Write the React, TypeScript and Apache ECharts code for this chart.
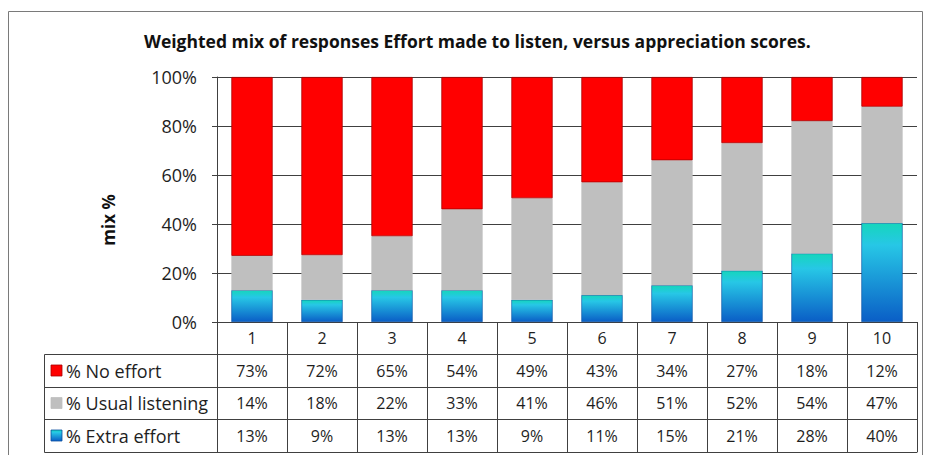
import React, { useEffect, useRef } from "react";
import * as echarts from "echarts";

const categories = ["1", "2", "3", "4", "5", "6", "7", "8", "9", "10"];
const noEffort = [73, 72, 65, 54, 49, 43, 34, 27, 18, 12];
const usualListening = [14, 18, 22, 33, 41, 46, 51, 52, 54, 47];
const extraEffort = [13, 9, 13, 13, 9, 11, 15, 21, 28, 40];
const seriesNames = ["% No effort", "% Usual listening", "% Extra effort"];
const yTicks = [0, 20, 40, 60, 80, 100];
const titleText = "Weighted mix of responses Effort made to listen, versus appreciation scores.";
const yAxisTitle = "mix %";

const FONT = "'Open Sans', Carlito, Calibri, sans-serif";

export default function App() {
  const ref = useRef<HTMLDivElement>(null);
  useEffect(() => {
    if (!ref.current) return;
    const chart = echarts.init(ref.current, undefined, { renderer: "svg" });

    const totals = categories.map((_, i) => noEffort[i] + usualListening[i] + extraEffort[i]);
    const norm = (arr: number[]) => arr.map((v, i) => (v / totals[i]) * 100);

    const gridLeft = 217;
    const gridRight = 917;
    const gridTop = 77;
    const gridBottom = 322;
    const rowOffsets = [0, 32, 65, 97, 130];
    const rowHeights = [32, 33, 32, 33];
    const lineColor = "#404040";
    const tableLeft = 44;
    const textColor = "#1e1e1e";

    const makeGradient = () =>
      new echarts.graphic.LinearGradient(0, 0, 0, 1, [
        { offset: 0, color: "#15d6bc" },
        { offset: 0.22, color: "#27c7e6" },
        { offset: 1, color: "#0a5ec6" },
      ]);

    const rows = [noEffort, usualListening, extraEffort];
    const seriesColors: any[] = ["#ff0000", "#bfbfbf", makeGradient()];
    const seriesBorders = ["#a80000", "#bfbfbf", "#0a4f9e"];

    const baseXAxis = {
      type: "category",
      gridIndex: 0,
      data: categories,
      position: "bottom",
      boundaryGap: true,
      splitLine: { show: false },
    };

    const xAxes: any[] = [
      {
        ...baseXAxis,
        offset: 0,
        axisLine: { show: true, lineStyle: { color: lineColor, width: 1 } },
        axisTick: { show: true, length: rowHeights[0], interval: 0, lineStyle: { color: lineColor } },
        axisLabel: {
          interval: 0,
          margin: rowHeights[0] / 2,
          verticalAlign: "middle",
          fontSize: 16,
          fontFamily: FONT,
          color: textColor,
        },
      },
    ];
    rows.forEach((row, r) => {
      xAxes.push({
        ...baseXAxis,
        offset: rowOffsets[r + 1],
        axisLine: { show: true, lineStyle: { color: lineColor, width: 1 } },
        axisTick: { show: true, length: rowHeights[r + 1], interval: 0, lineStyle: { color: lineColor } },
        axisLabel: {
          interval: 0,
          margin: rowHeights[r + 1] / 2,
          verticalAlign: "middle",
          fontSize: 16,
          fontFamily: FONT,
          color: textColor,
          formatter: (_v: string, i: number) => row[i] + "%",
        },
      });
    });
    xAxes.push({
      ...baseXAxis,
      offset: rowOffsets[4],
      axisLine: { show: true, lineStyle: { color: lineColor, width: 1 } },
      axisTick: { show: false },
      axisLabel: { show: false },
    });

    const legendGraphics: any[] = [];
    seriesNames.forEach((name, r) => {
      const cy = gridBottom + rowOffsets[r + 1] + rowHeights[r + 1] / 2;
      legendGraphics.push({
        type: "rect",
        silent: true,
        shape: { x: 51, y: cy - 5.5, width: 11, height: 11 },
        style: { fill: r === 2 ? makeGradient() : seriesColors[r], stroke: seriesBorders[r], lineWidth: 0.8 },
      });
      legendGraphics.push({
        type: "text",
        silent: true,
        x: 66,
        y: cy,
        style: {
          text: name,
          fontSize: 18,
          fontFamily: FONT,
          fill: textColor,
          align: "left",
          verticalAlign: "middle",
        },
      });
    });

    const option: any = {
      animation: false,
      backgroundColor: "#ffffff",
      title: {
        text: titleText,
        left: 139,
        top: 27,
        textStyle: { fontSize: 17.5, fontWeight: "bold", fontFamily: FONT, color: "#111" },
      },
      grid: {
        left: gridLeft,
        right: 928 - gridRight,
        top: gridTop,
        bottom: 455 - gridBottom,
        containLabel: false,
      },
      xAxis: xAxes,
      yAxis: {
        type: "value",
        min: 0,
        max: 100,
        interval: 20,
        axisLine: { show: true, lineStyle: { color: lineColor } },
        axisTick: { show: true, length: 5, lineStyle: { color: lineColor } },
        splitLine: { show: true, lineStyle: { color: lineColor, width: 1 } },
        axisLabel: {
          margin: 20,
          fontSize: 18,
          fontFamily: FONT,
          color: textColor,
          formatter: (v: number) => (yTicks.includes(v) ? v + "%" : ""),
        },
      },
      series: [
        {
          name: seriesNames[2],
          type: "bar",
          stack: "mix",
          xAxisIndex: 0,
          barWidth: "59%",
          data: norm(extraEffort),
          itemStyle: { color: seriesColors[2], borderColor: seriesBorders[2], borderWidth: 0.6 },
        },
        {
          name: seriesNames[1],
          type: "bar",
          stack: "mix",
          xAxisIndex: 0,
          barWidth: "59%",
          data: norm(usualListening),
          itemStyle: { color: seriesColors[1] },
        },
        {
          name: seriesNames[0],
          type: "bar",
          stack: "mix",
          xAxisIndex: 0,
          barWidth: "59%",
          data: norm(noEffort),
          itemStyle: { color: seriesColors[0], borderColor: seriesBorders[0], borderWidth: 0.8 },
        },
      ],
      graphic: [
        {
          type: "rect",
          silent: true,
          shape: { x: 8.5, y: 11.5, width: 914, height: 470 },
          style: { fill: "none", stroke: "#7a7a7a", lineWidth: 1 },
          z: -1,
        },
        {
          type: "rect",
          silent: true,
          shape: {
            x: tableLeft + 0.5,
            y: gridBottom + rowOffsets[1] + 0.5,
            width: gridLeft - tableLeft,
            height: rowOffsets[4] - rowOffsets[1],
          },
          style: { fill: "none", stroke: lineColor, lineWidth: 1 },
        },
        ...[2, 3].map((k) => ({
          type: "line",
          silent: true,
          shape: {
            x1: tableLeft,
            y1: gridBottom + rowOffsets[k] + 0.5,
            x2: gridLeft,
            y2: gridBottom + rowOffsets[k] + 0.5,
          },
          style: { stroke: lineColor, lineWidth: 1 },
        })),
        ...legendGraphics,
        {
          type: "text",
          silent: true,
          x: 108,
          y: 220,
          rotation: Math.PI / 2,
          style: {
            text: yAxisTitle,
            fontSize: 17,
            fontWeight: "bold",
            fontFamily: FONT,
            fill: "#111",
            align: "center",
            verticalAlign: "middle",
          },
        },
      ],
    };

    chart.setOption(option);
    return () => chart.dispose();
  }, []);

  return (
    <div
      ref={ref}
      style={{ position: "absolute", left: 0, top: 0, width: 928, height: 455 }}
    />
  );
}
